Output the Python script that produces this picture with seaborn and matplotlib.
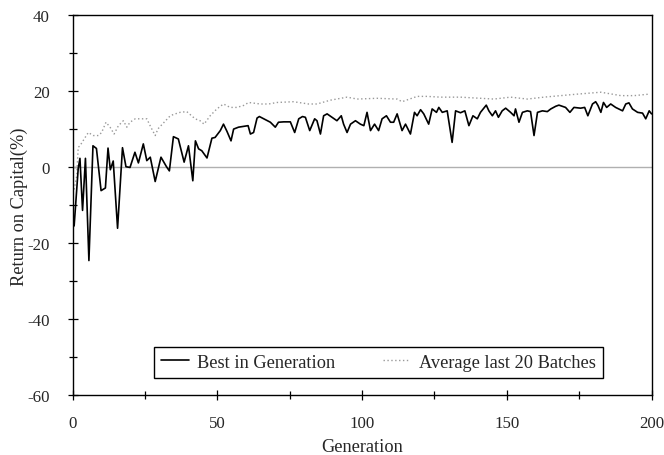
import matplotlib
matplotlib.use("Agg")
import matplotlib.pyplot as plt
import seaborn as sns
import pandas as pd
from matplotlib.ticker import MultipleLocator

# ---- data ----
best_gen = [0, 0.5, 1.9, 2.5, 3.4, 4.4, 5.6, 7.0, 8.2, 9.8, 11.3, 12.2, 13.0, 14.0, 15.5,
            17.2, 18.4, 19.8, 21.5, 22.7, 24.4, 25.6, 26.8, 28.5, 30.5, 32.4, 33.4, 34.8,
            36.5, 38.5, 40.0, 41.5, 42.4, 43.5, 44.6, 46.4, 48.1, 49.2, 51.0, 52.1, 53.3,
            54.7, 55.6, 57.3, 59.0, 60.6, 61.4, 62.5, 63.7, 64.5, 66.5, 68.3, 70.0, 71.1,
            72.9, 75.2, 76.7, 78.1, 79.4, 80.4, 81.9, 83.6, 84.4, 85.6, 86.7, 87.9, 89.6,
            91.3, 92.8, 93.6, 94.8, 96.0, 97.7, 99.4, 100.6, 101.7, 102.9, 104.3, 105.7,
            106.9, 108.4, 109.8, 110.9, 112.1, 113.8, 115.0, 116.7, 118.1, 119.0, 120.2,
            121.3, 123.0, 124.2, 125.7, 126.5, 127.7, 129.4, 131.1, 132.3, 134.0, 135.5,
            136.9, 138.3, 139.8, 140.9, 142.9, 143.8, 145.0, 146.1, 147.1, 148.4, 149.6,
            151.3, 152.5, 153.0, 154.2, 155.4, 157.1, 158.2, 159.4, 160.6, 162.3, 164.0,
            165.2, 166.9, 168.0, 169.2, 170.3, 171.8, 173.2, 175.5, 176.9, 178.0, 179.6,
            180.7, 181.5, 182.5, 183.4, 184.5, 185.9, 187.6, 190.0, 191.1, 192.2, 193.4,
            195.2, 196.9, 198.0, 199.2, 200.0]
best_val = [-16, -15.5, -0.5, 2.2, -11.5, 2.2, -24.7, 5.5, 4.8, -6.3, -5.6, 4.9, -0.8, 1.5, -16.2,
            5.0, 0.0, -0.2, 3.8, 1.0, 6.0, 1.6, 2.5, -3.9, 2.5, 0.0, -1.1, 7.9,
            7.3, 1.2, 5.5, -3.7, 6.8, 4.7, 4.2, 2.3, 7.5, 7.7, 9.5, 11.2, 9.3,
            6.8, 9.9, 10.4, 10.6, 10.8, 8.6, 9.0, 12.8, 13.2, 12.4, 11.7, 10.4, 11.7,
            11.8, 11.8, 9.0, 12.6, 13.2, 13.0, 9.5, 12.6, 12.1, 8.6, 13.4, 13.9, 13.0,
            12.1, 13.4, 11.2, 9.0, 11.2, 12.1, 11.2, 10.8, 14.3, 9.5, 11.2, 9.5,
            12.6, 13.4, 11.7, 11.7, 13.9, 9.5, 11.2, 8.6, 14.3, 13.4, 15.0,
            13.9, 11.2, 15.2, 14.3, 15.6, 14.3, 14.7, 6.4, 14.7, 14.2, 14.7,
            10.8, 13.4, 12.6, 14.3, 16.2, 14.7, 13.4, 14.7, 13.0, 14.7, 15.4,
            14.3, 13.4, 15.2, 11.7, 14.3, 14.7, 14.5, 8.2, 14.3, 14.7, 14.5,
            15.2, 15.9, 16.2, 15.9, 15.6, 14.3, 15.6, 15.4, 15.6, 13.4, 16.5,
            17.1, 16.1, 14.3, 16.9, 15.6, 16.5, 15.6, 14.7, 16.5, 16.8, 15.2,
            14.3, 14.1, 12.6, 14.7, 13.9]

avg_gen = [0.5, 1.4, 1.9, 2.5, 4.3, 5.4, 7.1, 8.9, 10.0, 11.5, 12.9, 14.3, 15.8, 17.5, 18.7,
           19.8, 21.6, 23.3, 25.6, 27.0, 28.5, 29.5, 33.7, 35.0, 37.1, 39.4, 42.3, 44.0,
           45.4, 47.5, 49.8, 52.1, 54.4, 56.7, 59.0, 60.8, 64.8, 67.7, 70.6, 76.3, 81.5,
           84.4, 89.0, 94.8, 98.3, 105.2, 112.1, 113.8, 119.0, 122.5, 127.1, 134.0, 145.5,
           151.3, 157.1, 162.8, 168.6, 174.4, 182.5, 189.4, 194.0, 199.2]
avg_val = [-6.0, -2.4, 5.1, 5.5, 7.7, 9.0, 8.2, 8.2, 9.0, 11.7, 10.4, 8.6, 10.8, 12.1, 10.4,
           11.7, 12.6, 12.6, 12.6, 10.4, 8.2, 10.0, 13.4, 13.8, 14.3, 14.5, 12.6, 12.1,
           11.2, 13.4, 15.2, 16.5, 15.6, 15.6, 16.1, 16.9, 16.5, 16.5, 16.9, 17.1, 16.5,
           16.5, 17.5, 18.3, 17.8, 18.0, 17.8, 17.1, 18.5, 18.5, 18.3, 18.3, 17.8,
           18.3, 17.8, 18.3, 18.7, 19.1, 19.6, 18.7, 18.7, 19.1]

x_ticks = [0, 50, 100, 150, 200]
y_ticks = [-60, -40, -20, 0, 20, 40]

df_best = pd.DataFrame({"Generation": best_gen, "Return": best_val})
df_avg = pd.DataFrame({"Generation": avg_gen, "Return": avg_val})

sns.set_style("ticks")
plt.rcParams["font.family"] = ["Liberation Serif", "DejaVu Serif"]
plt.rcParams["axes.unicode_minus"] = False

FS = 13.2
TFS = 12.2

fig = plt.figure(figsize=(6.64, 4.56), dpi=100)
ax = fig.add_axes([0.1095, 0.1322, 0.8717, 0.8334])

ax.axhline(0, color="#b0b0b0", lw=1.0, zorder=1)
sns.lineplot(data=df_avg, x="Generation", y="Return", ax=ax, color="#999999",
             lw=1.0, linestyle=(0, (1, 1.8)), label="Average last 20 Batches",
             estimator=None, sort=False, zorder=2)
sns.lineplot(data=df_best, x="Generation", y="Return", ax=ax, color="black",
             lw=1.2, label="Best in Generation", estimator=None, sort=False, zorder=3)

ax.set_xlim(0, 200)
ax.set_ylim(-60, 40)
ax.set_xticks(x_ticks)
ax.set_yticks(y_ticks)
ax.xaxis.set_minor_locator(MultipleLocator(25))
ax.yaxis.set_minor_locator(MultipleLocator(10))
ax.tick_params(axis="both", which="major", direction="inout", length=7, width=0.9,
               labelsize=TFS, color="black")
ax.tick_params(axis="both", which="minor", direction="inout", length=6, width=0.9,
               color="black")
ax.tick_params(axis="y", which="major", pad=13)
ax.tick_params(axis="x", which="major", pad=11)
for s in ax.spines.values():
    s.set_visible(True)
    s.set_linewidth(1.0)
    s.set_color("black")

ax.set_xlabel("Generation", fontsize=FS)
ax.set_ylabel("Return on Capital(%)", fontsize=FS)
ax.xaxis.set_label_coords(0.5, -0.115)
ax.yaxis.set_label_coords(-0.078, 0.497)

handles, labels = ax.get_legend_handles_labels()
order = [labels.index("Best in Generation"), labels.index("Average last 20 Batches")]
leg = ax.legend([handles[i] for i in order], [labels[i] for i in order],
                loc="center", bbox_to_anchor=(0.528, 0.085), ncol=2, fontsize=FS,
                handlelength=1.5, handletextpad=0.45, columnspacing=2.6,
                borderpad=0.4, frameon=True, fancybox=False, framealpha=1)
leg.get_frame().set_edgecolor("black")
leg.get_frame().set_linewidth(1.0)

fig.savefig("out.png", dpi=100)
